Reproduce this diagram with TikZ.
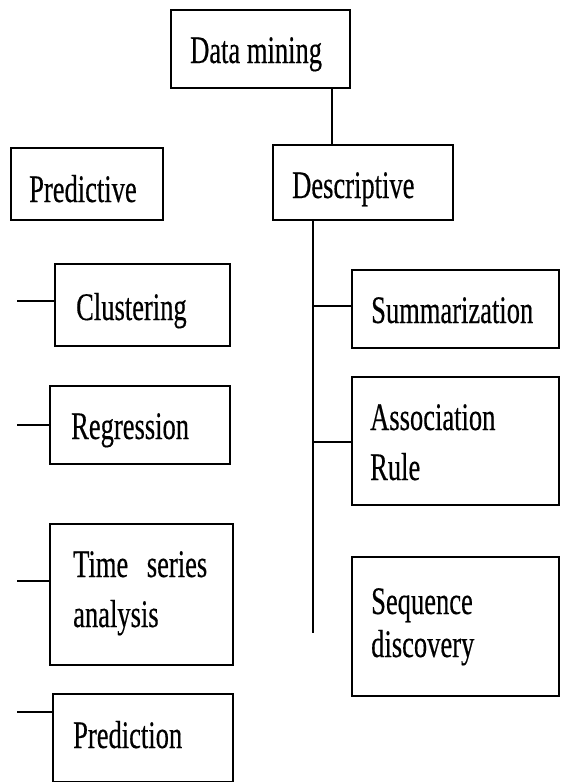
\documentclass[tikz,border=0pt]{standalone}
\usepackage{fontspec}
\setmainfont{Liberation Serif}[FakeStretch=0.68]
\newfontfamily\boxfont{Liberation Serif}[FakeStretch=0.68,FakeBold=0.35]
\begin{document}
\begin{tikzpicture}[x=1pt,y=-1pt,
  box/.style={draw, line width=1.8pt, rectangle, anchor=north west, inner sep=0pt},
  conn/.style={draw, line width=1.3pt},
  txt/.style={anchor=base west, inner sep=0pt, font=\boxfont\fontsize{39}{50}\selectfont}]
\useasboundingbox (0,0) rectangle (560,782);
% boxes
\node[box, minimum width=179pt, minimum height=78pt] (dm) at (170,9) {};
\node[box, minimum width=152pt, minimum height=72pt] (pred) at (10,147) {};
\node[box, minimum width=180pt, minimum height=75pt] (desc) at (272,144) {};
\node[box, minimum width=175pt, minimum height=82pt] (clus) at (54,263) {};
\node[box, minimum width=180pt, minimum height=78pt] (regr) at (49,385) {};
\node[box, minimum width=183pt, minimum height=141pt] (tsa) at (49,523) {};
\node[box, minimum width=180pt, minimum height=88pt] (prdn) at (52,693) {};
\node[box, minimum width=207pt, minimum height=78pt] (summ) at (351,269) {};
\node[box, minimum width=207pt, minimum height=128pt] (assoc) at (351,376) {};
\node[box, minimum width=207pt, minimum height=139pt] (seq) at (351,556) {};
% texts
\node[txt] (tdm) at (190,63) {Data mining};
\node[txt] (tpred) at (29,202) {Predictive};
\node[txt] (tdesc) at (292,198) {Descriptive};
\node[txt] (tclus) at (76,320) {Clustering};
\node[txt] (tregr) at (71,439) {Regression};
\node[txt] (ttsa1) at (73,577) {\makebox[134pt][s]{Time series}};
\node[txt] (ttsa2) at (73,627) {analysis};
\node[txt] (tprdn) at (73,748) {Prediction};
\node[txt] (tsumm) at (371,323) {Summarization};
\node[txt] (tassoc1) at (370,430) {Association};
\node[txt] (tassoc2) at (370,480) {Rule};
\node[txt] (tseq1) at (371,614) {Sequence};
\node[txt] (tseq2) at (371,657) {discovery};
% connectors
\coordinate (dmx) at (332,0);
\draw[conn] (dmx |- dm.south) -- (dmx |- desc.north);
\coordinate (trunk) at (313,633);
\draw[conn] (trunk |- desc.south) -- (trunk);
\coordinate (rs1) at (313,306);
\coordinate (rs2) at (313,442);
\draw[conn] (rs1) -- (rs1 -| summ.west);
\draw[conn] (rs2) -- (rs2 -| assoc.west);
\coordinate (ls1) at (17,301);
\coordinate (ls2) at (17,425);
\coordinate (ls3) at (17,581);
\coordinate (ls4) at (17,712);
\draw[conn] (ls1) -- (ls1 -| clus.west);
\draw[conn] (ls2) -- (ls2 -| regr.west);
\draw[conn] (ls3) -- (ls3 -| tsa.west);
\draw[conn] (ls4) -- (ls4 -| prdn.west);
\end{tikzpicture}
\end{document}
